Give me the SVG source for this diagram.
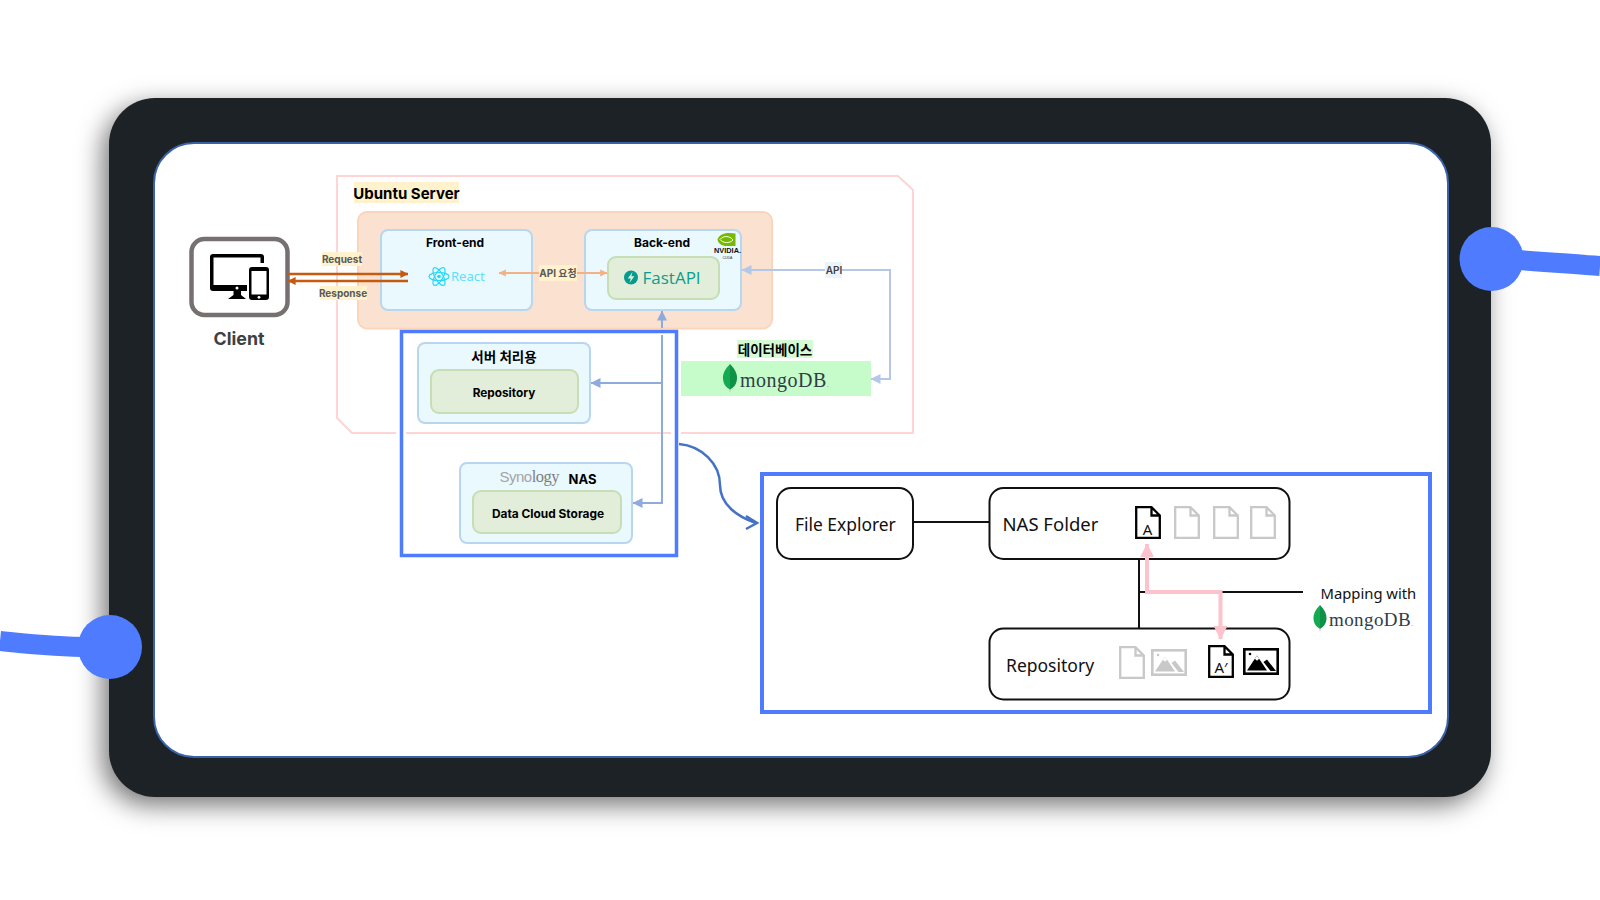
<svg xmlns="http://www.w3.org/2000/svg" width="1600" height="900" viewBox="0 0 1600 900">
<style>
text{font-family:Inter,"Noto Sans CJK KR","Noto Sans",sans-serif}
.b{font-weight:700;fill:#000;text-anchor:middle;dominant-baseline:central}
.lab{font-weight:700;font-size:10px;fill:#595959;text-anchor:middle;dominant-baseline:central}
.out{fill:#e9f9fe;stroke:#b8d6ef;stroke-width:2}
.in{fill:#e2eed9;stroke:#c5deb5;stroke-width:2}
.w{fill:#fff;stroke:#111;stroke-width:2}
.n{font-family:"Noto Sans",sans-serif;fill:#111}
.m{font-family:"Liberation Serif",serif;fill:#2f3e48}
.dot{font-size:9px;fill:#7a868c}
.blue{fill:none;stroke:#4f7cff}
.k{fill:none;stroke:#111;stroke-width:2}
.bl{fill:none;stroke:#8faadc;stroke-width:2}
.lb{fill:none;stroke:#b4c7e7;stroke-width:2}
.pk{fill:none;stroke:#fdc3cc;stroke-width:4}
.or{fill:none;stroke:#c55a11;stroke-width:2.5}
.po{fill:none;stroke:#f4b183;stroke-width:2}
.da{font-family:"Noto Sans",sans-serif;font-size:15px;fill:#111;text-anchor:middle}
</style>
<defs>
<filter id="sh" x="-10%" y="-15%" width="120%" height="130%"><feDropShadow dx="-6" dy="8" stdDeviation="13" flood-color="#000" flood-opacity=".55"/></filter>
<marker id="aOr" viewBox="0 0 10 10" refX="9.500" refY="5" markerWidth="3.200" markerHeight="4" orient="auto"><path d="M0 0L10 5L0 10Z" fill="#c55a11"/></marker>
<marker id="aPo" viewBox="0 0 10 10" refX="9.500" refY="5" markerWidth="3.600" markerHeight="3.600" orient="auto-start-reverse"><path d="M0 0L10 5L0 10Z" fill="#f4b183"/></marker>
<marker id="aBl" viewBox="0 0 10 10" refX="9.500" refY="5" markerWidth="5" markerHeight="5" orient="auto"><path d="M0 0L10 5L0 10Z" fill="#8faadc"/></marker>
<marker id="aLb" viewBox="0 0 10 10" refX="9.500" refY="5" markerWidth="5" markerHeight="5" orient="auto-start-reverse"><path d="M0 0L10 5L0 10Z" fill="#b4c7e7"/></marker>
<marker id="aPk" viewBox="0 0 10 10" refX="9.500" refY="5" markerWidth="3.500" markerHeight="3.500" orient="auto-start-reverse"><path d="M0 0L10 5L0 10Z" fill="#fdc3cc"/></marker>
<symbol id="leaf" viewBox="-8 -14 16 28" overflow="visible">
<path d="M-.6 9L-.4 14H.4L.6 9Z" fill="#b8c4bc"/>
<path d="M0-14C-5-9-7.500-4-7 1C-6.500 7-3 10 0 11.500Z" fill="#13aa52"/>
<path d="M0-14C5-9 7.500-4 7 1C6.500 7 3 10 0 11.500Z" fill="#0f9148"/>
</symbol>
<symbol id="doc" viewBox="0 0 26 33" overflow="visible"><path d="M1.200 1.200H16.500L24.800 9.500V31.800H1.200Z M16.500 1.200V9.500H24.800" fill="none" stroke="currentColor" stroke-width="2.300"/></symbol>
<symbol id="img" viewBox="0 0 36 27" overflow="visible">
<rect x="1.300" y="1.300" width="33.400" height="24.400" fill="none" stroke="currentColor" stroke-width="2.600"/>
<path d="M4 22.500L14 7.500L24 22.500Z M24 11.500L33 23H27.500L20.500 14Z" fill="currentColor"/>
<path d="M11.800 10.800L14 7.500L16.200 10.800L14 12.800Z" fill="#fff"/>
<circle cx="7" cy="6" r="1.300" fill="currentColor"/>
</symbol>
</defs>

<rect width="1600" height="900" fill="#fff"/>

<g id="frame">
<rect x="109" y="98" width="1382" height="699" rx="46" fill="#1f2125" filter="url(#sh)"/>
<rect x="154" y="143" width="1294" height="614" rx="40" fill="#fff" stroke="#3a62a8" stroke-width="2"/>
<path d="M0 641C30 644 55 647 90 647" fill="none" stroke="#4f7cff" stroke-width="20"/>
<circle cx="110" cy="647" r="32" fill="#4f7cff"/>
<path d="M1500 259C1540 261 1570 264 1600 266" fill="none" stroke="#4f7cff" stroke-width="20"/>
<circle cx="1491.500" cy="259" r="32" fill="#4f7cff"/>
</g>

<g id="ubuntu-server">
<path d="M337 176H898L913 190V433H352L337 418Z" fill="none" stroke="#fdd5d5" stroke-width="2"/>
<rect x="354" y="182" width="105" height="21" fill="#fff2cc"/>
<text class="b" x="406.500" y="193.500" font-size="15">Ubuntu Server</text>
</g>

<g id="runtime-panel"><rect x="358" y="212" width="414" height="116.500" rx="9" fill="#fbe2d0" stroke="#fbd5bb" stroke-width="2"/></g>

<g id="client">
<rect x="191.500" y="239" width="96" height="76" rx="13" fill="#fff" stroke="#767071" stroke-width="4.500"/>
<path d="M213 254H261a3 3 0 0 1 3 3V263H260.500V257.500H213.500V285H247V291H213a3 3 0 0 1-3-3V257a3 3 0 0 1 3-3Z" fill="#000"/>
<circle cx="237" cy="288" r="1.500" fill="#fff"/>
<path d="M233.500 291H241V295L246 299H228L233.500 295Z" fill="#000"/>
<rect x="249" y="267" width="20" height="33" rx="3" fill="#000"/>
<rect x="251.500" y="271" width="15" height="23.500" fill="#fff"/>
<circle cx="259" cy="297.300" r="1.400" fill="#fff"/>
<text class="b" x="239" y="338" font-size="17.800" style="fill:#404040">Client</text>
</g>

<g id="front-end">
<rect class="out" x="381" y="230" width="151" height="80" rx="7"/>
<text class="b" x="455" y="242" font-size="12">Front-end</text>
<g fill="none" stroke="#22d8fb" stroke-width="1.200">
<ellipse cx="439" cy="276.500" rx="10" ry="4"/>
<ellipse cx="439" cy="276.500" rx="10" ry="4" transform="rotate(60 439 276.500)"/>
<ellipse cx="439" cy="276.500" rx="10" ry="4" transform="rotate(120 439 276.500)"/>
</g>
<circle cx="439" cy="276.500" r="1.800" fill="#22d8fb"/>
<text x="451" y="280.500" font-size="13" style="font-family:'Noto Sans',sans-serif;fill:#62dffb">React</text>
</g>

<g id="back-end">
<rect class="out" x="585" y="230" width="156" height="80" rx="7"/>
<text class="b" x="662" y="242" font-size="12">Back-end</text>
<rect class="in" x="608" y="257" width="111" height="42" rx="8"/>
<circle cx="631" cy="277.500" r="7" fill="#059b8e"/>
<path d="M632.500 272L627.800 278.500H630.800L629.500 283L634.300 276.300H631.300Z" fill="#e2eed9"/>
<text x="642.500" y="283.500" font-size="17" style="font-family:'Open Sans',sans-serif;fill:#0d9c8f">FastAPI</text>
<path d="M717.500 239C721 232.500 728 232.500 735.500 233.500V246H725C720 245 717.500 242 717.500 239Z" fill="#76b900"/>
<path d="M720 239.500C723 235.500 730 235.500 733 240C730 243.500 723 243.500 720 239.500Z" fill="none" stroke="#fff" stroke-width="1"/>
<text x="727.500" y="253" font-size="7" font-weight="700" text-anchor="middle" style="font-family:'Liberation Sans',sans-serif;fill:#111" textLength="27" lengthAdjust="spacingAndGlyphs">NVIDIA.</text>
<text x="727.500" y="259" font-size="3.500" text-anchor="middle" style="font-family:'Liberation Sans',sans-serif;fill:#333">CUDA</text>
</g>

<g id="database">
<rect x="681" y="361" width="190" height="35" fill="#c6fcc9"/>
<rect x="737" y="340" width="76" height="18" fill="#d4fbd4"/>
<text class="b" x="775" y="350" font-size="13.500">데이터베이스</text>
<use href="#leaf" x="722" y="364" width="16" height="28"/>
<text class="m" x="740" y="387" font-size="20" letter-spacing=".5">mongoDB<tspan class="dot">.</tspan></text>
</g>

<g id="server-storage">
<rect class="out" x="418" y="343" width="172" height="80" rx="7"/>
<text class="b" x="504" y="357" font-size="13.500">서버 처리용</text>
<rect class="in" x="431" y="370" width="147" height="43" rx="8"/>
<text class="b" x="504" y="393" font-size="11.800">Repository</text>
</g>

<g id="nas">
<rect class="out" x="460" y="463" width="172" height="80" rx="7"/>
<text x="499.500" y="482" font-size="15" style="font-family:'Liberation Sans',sans-serif;fill:#a6a4a6" letter-spacing="-.5">Syno<tspan style="font-family:'Liberation Serif',serif;fill:#807e80;font-size:16.500px">logy</tspan></text>
<text class="b" x="582.500" y="479" font-size="13">NAS</text>
<rect class="in" x="473" y="491" width="148" height="42" rx="8"/>
<text class="b" x="548" y="513.500" font-size="11.900">Data Cloud Storage</text>
</g>

<g id="connectors">
<path class="or" d="M288 274H408" marker-end="url(#aOr)"/>
<path class="or" d="M408 281H288" marker-end="url(#aOr)"/>
<rect x="322" y="252" width="40" height="14" fill="#fff2cc"/>
<text class="lab" x="342" y="259">Request</text>
<rect x="320" y="286" width="47" height="14" fill="#fff2cc"/>
<text class="lab" x="343" y="293">Response</text>
<path class="po" d="M499 273H607" marker-start="url(#aPo)" marker-end="url(#aPo)"/>
<rect x="539" y="265" width="38" height="16" fill="#fff2cc"/>
<text class="lab" x="558" y="273">API 요청</text>
<path class="lb" d="M742 270H890V379H871" marker-start="url(#aLb)" marker-end="url(#aLb)"/>
<rect x="825" y="262" width="17" height="16" fill="#ebf3fb"/>
<text class="lab" x="834" y="269.500" style="font-weight:600;fill:#404040">API</text>
<path class="bl" d="M662 328V311" marker-end="url(#aBl)"/>
<path class="bl" d="M662 335V503H633" marker-end="url(#aBl)"/>
<path class="bl" d="M662 383H591" marker-end="url(#aBl)"/>
<path d="M679 444C702 446 720 464 720 485C720 505 738 517 756 523" fill="none" stroke="#4472c4" stroke-width="2.500"/>
<path d="M746 516L757 523L746 529" fill="none" stroke="#4472c4" stroke-width="2.500"/>
<path class="k" d="M913 522H989"/>
<path class="k" d="M1139 559V628"/>
<path class="k" d="M1139 592H1303"/>
</g>

<g id="server-frame">
<rect x="396" y="429" width="10" height="8" fill="#fff"/>
<rect x="671" y="429" width="10" height="8" fill="#fff"/>
<rect x="401.500" y="331.500" width="275" height="224" class="blue" stroke-width="3.500"/>
</g>

<g id="mapping-frame"><rect x="762" y="474" width="668" height="238" class="blue" stroke-width="4"/></g>

<g id="file-explorer">
<rect class="w" x="777" y="488" width="136" height="71" rx="14"/>
<text class="n" x="795" y="531" font-size="17.400">File Explorer</text>
</g>

<g id="nas-folder">
<rect class="w" x="989.500" y="488" width="300" height="71" rx="14"/>
<text class="n" x="1002.500" y="531" font-size="18.500">NAS Folder</text>
<use href="#doc" x="1135" y="506" width="26" height="33" style="color:#000"/>
<text class="da" x="1147.500" y="534.500">A</text>
<use href="#doc" x="1174" y="506" width="26" height="33" style="color:#c8c8c8"/>
<use href="#doc" x="1213" y="506" width="26" height="33" style="color:#c8c8c8"/>
<use href="#doc" x="1250" y="506" width="26" height="33" style="color:#c8c8c8"/>
</g>

<g id="repository">
<rect class="w" x="989.500" y="628.500" width="300" height="71" rx="14"/>
<text class="n" x="1006" y="672" font-size="17.500">Repository</text>
<use href="#doc" x="1119" y="646" width="26" height="33" style="color:#c8c8c8"/>
<use href="#img" x="1151" y="649" width="36" height="27" style="color:#c8c8c8"/>
<use href="#doc" x="1208" y="645" width="26" height="33" style="color:#000"/>
<text class="da" x="1221" y="672.500">A′</text>
<use href="#img" x="1243" y="648" width="36" height="27" style="color:#000"/>
</g>

<g id="mapping-note">
<text class="n" x="1320.500" y="599" font-size="14.800">Mapping with</text>
<use href="#leaf" x="1312" y="605" width="16" height="26"/>
<text class="m" x="1329" y="626" font-size="19" letter-spacing=".4">mongoDB<tspan class="dot">.</tspan></text>
</g>

<g id="mapping-link">
<path class="pk" d="M1147 544V592H1220.500V639" marker-start="url(#aPk)" marker-end="url(#aPk)"/>
</g>
</svg>
